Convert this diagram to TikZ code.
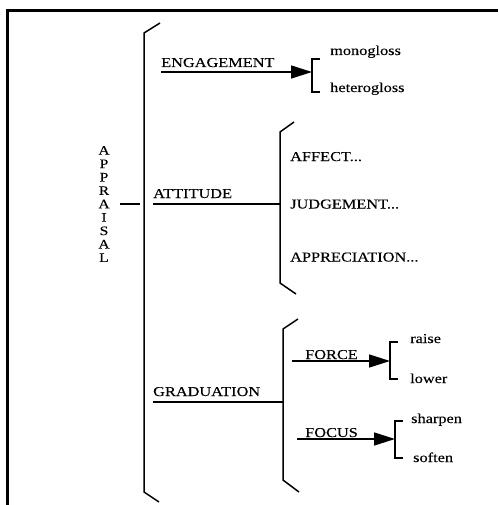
\documentclass[tikz,border=0pt]{standalone}
\usepackage{fontspec}
\setmainfont{Liberation Serif}[FakeStretch=1.2,FakeBold=0.15]
\usetikzlibrary{arrows.meta}

\begin{document}
\begin{tikzpicture}[x=1pt,y=-1pt,
    lbl/.style={anchor=base west,inner sep=0pt,font=\fontsize{13.6}{16}\selectfont},
    brk/.style={line width=1.5pt,line join=miter},
    arr/.style={line width=1.5pt,-{Triangle[length=21pt,width=13pt]}},
  ]
  \useasboundingbox (0,0) rectangle (498,505);

  %Frame (only top and left edges show)
  \draw[line width=3pt] (7.5,505) -- (7.5,10.5) -- (498,10.5);

  %APPRAISAL, written downwards
  \node[align=center,inner sep=0pt,font=\fontsize{13}{13.4}\selectfont] (appraisal) at (104,204)
    {A\\P\\P\\R\\A\\I\\S\\A\\L};
  \coordinate (app-a) at (120,204);
  \coordinate (app-b) at (140,204);
  \draw[line width=1.5pt] (app-a) -- (app-b);

  %Main bracket
  \draw[brk] (160,23) -- (144,33) -- (144,492) -- (159,502);

  %ENGAGEMENT
  \node[lbl] (engagement) at (161,67) {ENGAGEMENT};
  \coordinate (eng-a) at (161,72);
  \coordinate (eng-b) at (312,72);
  \draw[arr] (eng-a) -- (eng-b);
  \draw[brk] (320,59) -- (312,59) -- (312,92) -- (320,92);
  \node[lbl] (monogloss) at (330,55) {monogloss};
  \node[lbl] (heterogloss) at (330,92) {heterogloss};

  %ATTITUDE
  \node[lbl] (attitude) at (153,198) {ATTITUDE};
  \coordinate (att-a) at (153,204);
  \coordinate (att-b) at (280,204);
  \draw[line width=1.5pt] (att-a) -- (att-b);
  \draw[brk] (294,122) -- (280,132) -- (280,283) -- (296,294);
  \node[lbl] (affect) at (290,161) {AFFECT...};
  \node[lbl] (judgement) at (290,208.5) {JUDGEMENT...};
  \node[lbl] (appreciation) at (290,261.5) {APPRECIATION...};

  %GRADUATION
  \node[lbl] (graduation) at (153,396) {GRADUATION};
  \coordinate (grad-a) at (153,402);
  \coordinate (grad-b) at (283,402);
  \draw[line width=1.5pt] (grad-a) -- (grad-b);
  \draw[brk] (298,319) -- (283,329) -- (283,480) -- (299,492);

  %FORCE
  \node[lbl] (force) at (305,359) {FORCE};
  \coordinate (force-a) at (292,361);
  \coordinate (force-b) at (390,361);
  \draw[arr] (force-a) -- (force-b);
  \draw[brk] (398,342) -- (390,342) -- (390,379) -- (398,379);
  \node[lbl] (raise) at (410,343) {raise};
  \node[lbl] (lower) at (410,383) {lower};

  %FOCUS
  \node[lbl] (focus) at (305,437) {FOCUS};
  \coordinate (focus-a) at (297,439);
  \coordinate (focus-b) at (395,439);
  \draw[arr] (focus-a) -- (focus-b);
  \draw[brk] (403,421) -- (395,421) -- (395,458) -- (403,458);
  \node[lbl] (sharpen) at (411,423) {sharpen};
  \node[lbl] (soften) at (413,462) {soften};
\end{tikzpicture}
\end{document}
